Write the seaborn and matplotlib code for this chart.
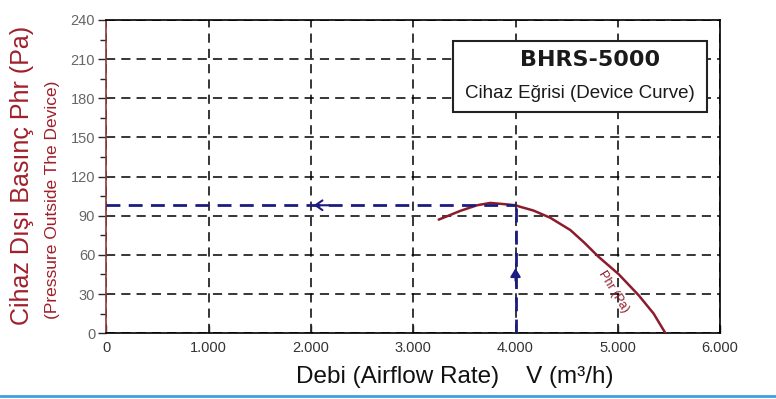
import numpy as np
import pandas as pd
import matplotlib
matplotlib.use("Agg")
import matplotlib.pyplot as plt
from matplotlib.ticker import MultipleLocator, FuncFormatter
from matplotlib.lines import Line2D
import seaborn as sns

# ---- data ----
airflow = [3249, 3460, 3623, 3754, 3884, 4000, 4047, 4174, 4340, 4536, 4670, 4812, 5008, 5204, 5350, 5465]
pressure = [87, 93.7, 98, 99.8, 98.9, 98, 96.8, 94, 88.4, 79, 69.5, 58.5, 45.2, 29, 15, 0]
op_flow = 4000
op_pressure = 98
x_ticks = [0, 1000, 2000, 3000, 4000, 5000, 6000]
y_ticks = [0, 30, 60, 90, 120, 150, 180, 210, 240]
title_main = "BHRS-5000"
title_sub = "Cihaz Eğrisi (Device Curve)"
ylabel_main = "Cihaz Dışı Basınç Phr (Pa)"
ylabel_sub = "(Pressure Outside The Device)"
xlabel = "Debi (Airflow Rate)    V (m³/h)"
curve_label = "Phr (Pa)"

sns.set_style("white")
plt.rcParams["font.family"] = ["Liberation Sans", "DejaVu Sans"]

fig = plt.figure(figsize=(7.76, 3.99), dpi=100)
ax = fig.add_axes([0.137, 0.165, 0.791, 0.785])

df = pd.DataFrame({"flow": airflow, "p": pressure})
curve_color = "#8c1c2c"
navy = "#1c1c80"
sns.lineplot(data=df, x="flow", y="p", ax=ax, color=curve_color, lw=1.8, zorder=4)

ax.set_xlim(0, 6000)
ax.set_ylim(0, 240)
ax.xaxis.set_major_locator(MultipleLocator(1000))
ax.xaxis.set_minor_locator(MultipleLocator(250))
ax.yaxis.set_major_locator(MultipleLocator(30))
ax.yaxis.set_minor_locator(MultipleLocator(15))
ax.set_xticks(x_ticks)
ax.set_yticks(y_ticks)
ax.xaxis.set_major_formatter(FuncFormatter(lambda v, p: f"{int(v):,}".replace(",", ".") if v else "0"))

ax.grid(True, which="major", color="black", ls=(0, (6, 4)), lw=1.1)
ax.tick_params(axis="x", which="major", direction="in", length=6, width=1, labelsize=10.5,
               labelcolor="#333333", pad=6)
ax.tick_params(axis="x", which="minor", direction="in", length=4, width=1)
ax.tick_params(axis="y", which="major", direction="out", length=6, width=1, labelsize=10.5,
               labelcolor="#666666", left=True, pad=2)
ax.tick_params(axis="y", which="minor", direction="out", length=4, width=1, left=True)
ax.tick_params(axis="x", bottom=True)

for s in ["top", "right", "bottom"]:
    ax.spines[s].set_color("black")
    ax.spines[s].set_linewidth(1.2)
ax.spines["left"].set_color("#8a3a3a")
ax.spines["left"].set_linewidth(1.2)

ax.set_xlabel("")
ax.set_ylabel("")

# operating point lines
ax.plot([0, op_flow], [op_pressure, op_pressure], color=navy, lw=2, ls=(0, (5, 3)), zorder=5)
ax.plot([op_flow, op_flow], [0, op_pressure], color=navy, lw=2, ls=(0, (5, 3)), zorder=5)
ax.annotate("", xy=(2000, op_pressure), xytext=(2200, op_pressure),
            arrowprops=dict(arrowstyle="->,head_length=0.5,head_width=0.35", color=navy, lw=1.5),
            zorder=6)
ax.annotate("", xy=(op_flow, 52), xytext=(op_flow, 38),
            arrowprops=dict(arrowstyle="-|>,head_length=0.5,head_width=0.3", color=navy, lw=1.5),
            zorder=6)

# curve label
ax.text(4960, 32, curve_label, rotation=-58, color=curve_color, fontsize=9,
        ha="center", va="center", zorder=6)

# legend-like box
box = plt.Rectangle((0.565, 0.706), 0.414, 0.227, transform=ax.transAxes,
                    facecolor="white", edgecolor="#222222", lw=1.5, zorder=7)
ax.add_patch(box)
ax.text(0.788, 0.872, title_main, transform=ax.transAxes, ha="center", va="center",
        fontsize=16, fontweight="bold", family=["DejaVu Sans"], color="#1a1a1a", zorder=8)
ax.text(0.772, 0.765, title_sub, transform=ax.transAxes, ha="center", va="center",
        fontsize=13.5, color="#1a1a1a", zorder=8)

# axis labels
fig.text(0.028, 0.56, ylabel_main, rotation=90, ha="center", va="center",
         fontsize=18, color="#a01f2a")
fig.text(0.068, 0.50, ylabel_sub, rotation=90, ha="center", va="center",
         fontsize=12.5, color="#a01f2a")
fig.text(0.586, 0.055, xlabel, ha="center", va="center", fontsize=17.5, color="#111111")

fig.add_artist(Line2D([0, 1], [0.008, 0.008], color="#3fa0e0", lw=2))

fig.savefig("out.png", dpi=100)
